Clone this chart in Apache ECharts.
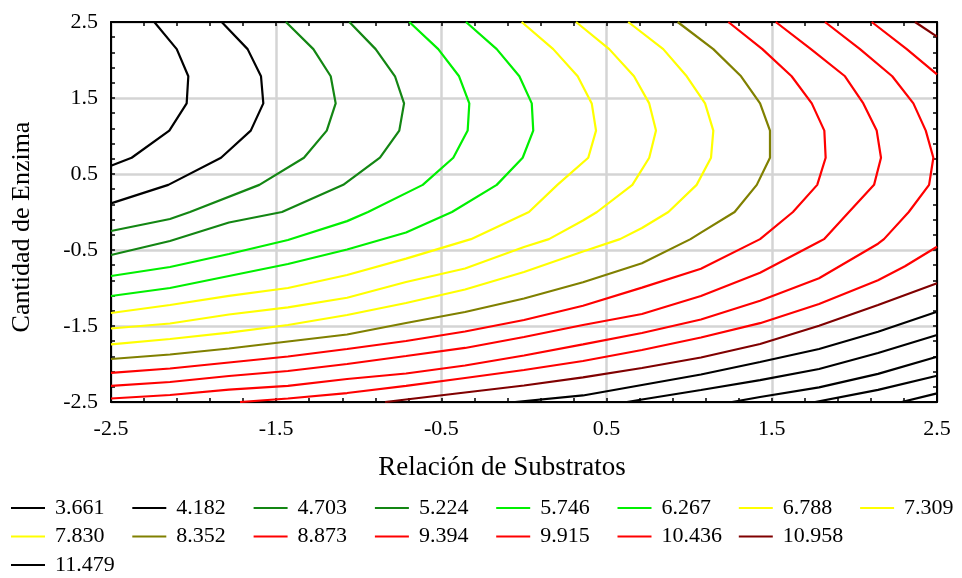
<!DOCTYPE html>
<html>
<head>
<meta charset="utf-8">
<script src="https://cdn.jsdelivr.net/npm/echarts@6/dist/echarts.min.js"></script>
<style>
  html, body { margin: 0; padding: 0; background: #ffffff; }
  #chart { width: 962px; height: 578px; }
</style>
</head>
<body>
<div id="chart"></div>
<script>
// Legend rows: the contour levels of the response surface
const legendRows = [
  ['3.661', '4.182', '4.703', '5.224', '5.746', '6.267', '6.788', '7.309'],
  ['7.830', '8.352', '8.873', '9.394', '9.915', '10.436', '10.958'],
  ['11.479']
];
// higher levels drawn in the lower right corner, not listed in the legend
const extraLevels = ['12.000', '12.521', '13.042', '13.563'];

// Contour polylines: [Relación de Substratos, Cantidad de Enzima]
const c3661 = [[-2.238, 2.5], [-2.102, 2.143], [-2.032, 1.786], [-2.042, 1.429], [-2.147, 1.071],
  [-2.375, 0.714], [-2.5, 0.609]];
const c4182 = [[-1.830, 2.5], [-1.673, 2.143], [-1.592, 1.786], [-1.578, 1.429], [-1.654, 1.071],
  [-1.834, 0.714], [-2.153, 0.357], [-2.5, 0.114]];
const c4703 = [[-1.441, 2.5], [-1.275, 2.143], [-1.170, 1.786], [-1.140, 1.429], [-1.194, 1.071],
  [-1.332, 0.714], [-1.602, 0.357], [-2.022, 0], [-2.143, -0.092], [-2.5, -0.25]];
const c5224 = [[-1.057, 2.5], [-0.898, 2.143], [-0.781, 1.786], [-0.726, 1.429], [-0.755, 1.071],
  [-0.872, 0.714], [-1.094, 0.357], [-1.465, 0], [-1.786, -0.138], [-2.143, -0.382], [-2.5, -0.566]];
const c5746 = [[-0.694, 2.5], [-0.519, 2.143], [-0.393, 1.786], [-0.331, 1.429], [-0.341, 1.071],
  [-0.428, 0.714], [-0.613, 0.357], [-0.944, 0], [-1.071, -0.12], [-1.429, -0.368], [-1.786, -0.553],
  [-2.143, -0.724], [-2.5, -0.842]];
const c6267 = [[-0.351, 2.5], [-0.165, 2.143], [-0.028, 1.786], [0.047, 1.429], [0.056, 1.071],
  [-0.008, 0.714], [-0.165, 0.357], [-0.436, 0], [-0.714, -0.270], [-1.071, -0.493], [-1.429, -0.684],
  [-1.786, -0.842], [-2.143, -1.0], [-2.5, -1.105]];
const c6788 = [[-0.014, 2.5], [0.177, 2.143], [0.325, 1.786], [0.410, 1.429], [0.436, 1.071],
  [0.389, 0.714], [0.202, 0.357], [0.030, 0], [-0.321, -0.357], [-0.714, -0.614], [-1.071, -0.829],
  [-1.429, -1.0], [-1.786, -1.103], [-2.143, -1.224], [-2.5, -1.329]];
const c7309 = [[0.315, 2.5], [0.516, 2.143], [0.666, 1.786], [0.758, 1.429], [0.799, 1.071],
  [0.758, 0.714], [0.656, 0.357], [0.442, 0], [0.357, -0.111], [0.151, -0.357], [0, -0.461],
  [-0.357, -0.743], [-0.714, -0.921], [-1.071, -1.128], [-1.429, -1.255], [-1.786, -1.349],
  [-2.143, -1.467], [-2.5, -1.533]];
const c7830 = [[0.631, 2.5], [0.843, 2.143], [0.985, 1.786], [1.096, 1.429], [1.146, 1.071],
  [1.132, 0.714], [1.045, 0.357], [0.874, 0], [0.714, -0.211], [0.581, -0.357], [0.357, -0.52],
  [0, -0.79], [-0.357, -1.02], [-0.714, -1.197], [-1.071, -1.355], [-1.429, -1.487], [-1.786, -1.586],
  [-2.143, -1.671], [-2.5, -1.743]];
const c8352 = [[0.930, 2.5], [1.146, 2.143], [1.314, 1.786], [1.429, 1.429], [1.489, 1.071],
  [1.489, 0.714], [1.409, 0.357], [1.275, 0], [1.071, -0.272], [1.008, -0.357], [0.714, -0.674],
  [0.357, -0.925], [0, -1.138], [-0.357, -1.316], [-0.714, -1.461], [-1.071, -1.612], [-1.429, -1.704],
  [-1.786, -1.796], [-2.143, -1.875], [-2.5, -1.934]];
const c8873 = [[1.237, 2.5], [1.443, 2.143], [1.620, 1.786], [1.742, 1.429], [1.818, 1.071],
  [1.826, 0.714], [1.775, 0.357], [1.628, 0], [1.429, -0.357], [1.071, -0.746], [0.714, -0.995],
  [0.357, -1.233], [0, -1.421], [-0.357, -1.572], [-0.714, -1.697], [-1.071, -1.803], [-1.429, -1.901],
  [-1.786, -1.980], [-2.143, -2.059], [-2.5, -2.118]];
const c9394 = [[1.524, 2.5], [1.737, 2.143], [1.943, 1.786], [2.054, 1.429], [2.135, 1.071],
  [2.161, 0.714], [2.119, 0.357], [1.967, 0], [1.816, -0.357], [1.786, -0.391], [1.429, -0.800],
  [1.071, -1.105], [0.714, -1.342], [0.357, -1.487], [0, -1.645], [-0.357, -1.789], [-0.714, -1.895],
  [-1.071, -2.0], [-1.429, -2.092], [-1.786, -2.158], [-2.143, -2.237], [-2.5, -2.289]];
const c9915 = [[1.822, 2.5], [2.034, 2.143], [2.229, 1.786], [2.357, 1.429], [2.432, 1.071],
  [2.478, 0.714], [2.452, 0.357], [2.329, 0], [2.179, -0.357], [2.143, -0.417], [1.786, -0.872],
  [1.429, -1.167], [1.071, -1.414], [0.714, -1.592], [0.357, -1.741], [0, -1.888], [-0.357, -2.020],
  [-0.714, -2.125], [-1.071, -2.197], [-1.429, -2.289], [-1.786, -2.336], [-2.143, -2.408], [-2.5, -2.454]];
const c10436top = [[2.105, 2.5], [2.317, 2.143], [2.5, 1.812]];
const c10436low = [[2.5, -0.457], [2.306, -0.714], [2.143, -0.897], [1.786, -1.211], [1.429, -1.463],
  [1.071, -1.651], [0.714, -1.816], [0.357, -1.961], [0, -2.079], [-0.357, -2.184], [-0.714, -2.289],
  [-1.071, -2.382], [-1.429, -2.454], [-1.719, -2.5]];
const c10958top = [[2.367, 2.5], [2.5, 2.307]];
const c10958low = [[2.5, -0.938], [2.143, -1.224], [1.786, -1.496], [1.429, -1.737], [1.071, -1.914],
  [0.714, -2.053], [0.357, -2.175], [0, -2.283], [-0.357, -2.375], [-0.714, -2.467], [-0.841, -2.5]];
const c11479 = [[2.5, -1.312], [2.143, -1.575], [1.786, -1.803], [1.429, -1.974], [1.071, -2.138],
  [0.714, -2.276], [0.357, -2.414], [-0.054, -2.5]];
const c12000 = [[2.5, -1.618], [2.143, -1.855], [1.786, -2.066], [1.429, -2.213], [1.071, -2.342],
  [0.714, -2.467], [0.623, -2.5]];
const c12521 = [[2.5, -1.904], [2.143, -2.130], [1.786, -2.307], [1.429, -2.434], [1.259, -2.5]];
const c13042 = [[2.5, -2.154], [2.143, -2.341], [1.762, -2.5]];
const c13563 = [[2.5, -2.386], [2.286, -2.5]];

// level -> polyline pieces
const contourPieces = [
  ['3.661', c3661], ['4.182', c4182], ['4.703', c4703], ['5.224', c5224],
  ['5.746', c5746], ['6.267', c6267], ['6.788', c6788], ['7.309', c7309],
  ['7.830', c7830], ['8.352', c8352], ['8.873', c8873], ['9.394', c9394],
  ['9.915', c9915], ['10.436', c10436top], ['10.436', c10436low],
  ['10.958', c10958top], ['10.958', c10958low], ['11.479', c11479],
  [extraLevels[0], c12000], [extraLevels[1], c12521], [extraLevels[2], c13042], [extraLevels[3], c13563]
];

// line colour for each level
const levelColors = {
  '3.661': '#000000', '4.182': '#000000', '4.703': '#138613', '5.224': '#138613',
  '5.746': '#00f000', '6.267': '#00f000', '6.788': '#ffff00', '7.309': '#ffff00',
  '7.830': '#ffff00', '8.352': '#808000', '8.873': '#ff0000', '9.394': '#ff0000',
  '9.915': '#ff0000', '10.436': '#ff0000', '10.958': '#800000', '11.479': '#000000',
  '12.000': '#000000', '12.521': '#000000', '13.042': '#000000', '13.563': '#000000'
};

const serif = 'Liberation Serif';

const series = contourPieces.map(function (p) {
  return {
    type: 'line',
    name: p[0],
    data: p[1],
    color: levelColors[p[0]],
    showSymbol: false,
    symbol: 'none',
    smooth: false,
    clip: true,
    lineStyle: { width: 2.2, color: levelColors[p[0]] },
    emphasis: { disabled: true },
    z: 3
  };
});

// legend: one vertical legend per column, rows 28.5px apart
const legendCols = 8;
const legends = [];
for (let k = 0; k < legendCols; k++) {
  const names = [];
  legendRows.forEach(function (row) { if (row[k] !== undefined) names.push(row[k]); });
  legends.push({
    orient: 'vertical',
    left: 11 + 121.3 * k,
    top: 497,
    padding: 0,
    itemWidth: 34,
    itemHeight: 2,
    itemGap: 6.5,
    icon: 'rect',
    selectedMode: false,
    data: names,
    textStyle: { fontFamily: serif, fontSize: 22, color: '#000', lineHeight: 22, padding: [0, 0, 0, 5] }
  });
}

const tickStyle = { color: '#000', width: 1.5 };

function mainAxis(extra) {
  return Object.assign({
    type: 'value',
    min: -2.5,
    max: 2.5,
    interval: 1,
    axisLine: { show: true, onZero: false, lineStyle: { color: '#000', width: 2 } },
    axisTick: { show: true, inside: true, length: 4, lineStyle: tickStyle },
    minorTick: { show: true, splitNumber: 5, length: 4, lineStyle: tickStyle },
    splitLine: { show: true, lineStyle: { color: '#d4d4d4', width: 2.5 } },
    minorSplitLine: { show: false }
  }, extra);
}

function mirrorAxis(extra) {
  return Object.assign({
    type: 'value',
    min: -2.5,
    max: 2.5,
    interval: 1,
    axisLine: { show: true, onZero: false, lineStyle: { color: '#000', width: 2 } },
    axisTick: { show: true, inside: true, length: 4, lineStyle: tickStyle },
    minorTick: { show: true, splitNumber: 5, length: 4, lineStyle: tickStyle },
    axisLabel: { show: false },
    splitLine: { show: false }
  }, extra);
}

const option = {
  animation: false,
  backgroundColor: '#ffffff',
  grid: { left: 111, right: 25, top: 22, bottom: 176, containLabel: false },
  legend: legends,
  xAxis: [
    mainAxis({
      position: 'bottom',
      name: 'Relación de Substratos',
      nameLocation: 'middle',
      nameGap: 52,
      nameTextStyle: { fontFamily: serif, fontSize: 27, color: '#000', padding: [0, 44, 0, 0] },
      axisLabel: { fontFamily: serif, fontSize: 22, color: '#000', margin: 16 }
    }),
    mirrorAxis({ position: 'top' })
  ],
  yAxis: [
    mainAxis({
      position: 'left',
      name: 'Cantidad de Enzima',
      nameLocation: 'middle',
      nameGap: 76,
      nameRotate: 90,
      nameTextStyle: { fontFamily: serif, fontSize: 26, color: '#000', padding: [0, 30, 0, 0] },
      axisLabel: { fontFamily: serif, fontSize: 22, color: '#000', margin: 13 }
    }),
    mirrorAxis({ position: 'right' })
  ],
  series: series
};

const chart = echarts.init(document.getElementById('chart'), null, { renderer: 'canvas' });
chart.setOption(option);
</script>
</body>
</html>
